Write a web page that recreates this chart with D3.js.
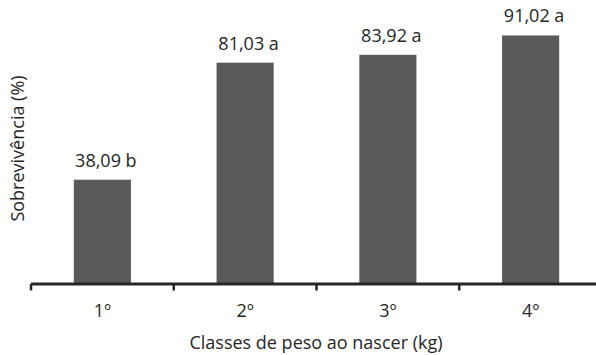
<!DOCTYPE html>
<html>
<head>
<meta charset="utf-8">
<script src="https://cdn.jsdelivr.net/npm/d3@7"></script>
<style>
  html, body { margin: 0; padding: 0; background: #fff; }
  svg { display: block; }
  text { font-family: "Open Sans", sans-serif; fill: #262626; }
</style>
</head>
<body>
<svg id="chart" width="596" height="355"></svg>
<script>
// Survival by birth-weight class
const categories = ["1º", "2º", "3º", "4º"];
const survival = [38.09, 81.03, 83.92, 91.02];
const groups = ["b", "a", "a", "a"];
const xTitle = "Classes de peso ao nascer (kg)";
const yTitle = "Sobrevivência (%)";

const svg = d3.select("#chart");
const fmt = v => v.toFixed(2).replace(".", ",");
const fontSize = 18;

const x = d3.scaleBand()
  .domain(categories)
  .range([31, 602])
  .paddingInner(0.6)
  .paddingOuter(0.3);

const y = d3.scaleLinear().domain([0, 100]).range([283.5, 11]);

const step = x.step();
const gap = (step - x.bandwidth()) / 2;

// bars
svg.append("g").selectAll("rect")
  .data(categories)
  .join("rect")
  .attr("x", d => x(d))
  .attr("width", x.bandwidth())
  .attr("y", (d, i) => y(survival[i]))
  .attr("height", (d, i) => y(0) - y(survival[i]))
  .attr("fill", "#595959");

// value labels
svg.append("g").selectAll("text")
  .data(categories)
  .join("text")
  .attr("x", d => x(d) + x.bandwidth() / 2 + 3.5)
  .attr("y", (d, i) => y(survival[i]) - 13)
  .attr("text-anchor", "middle")
  .attr("font-size", fontSize)
  .text((d, i) => fmt(survival[i]) + " " + groups[i]);

// x axis baseline with ticks between categories
const axisY = 284;
const axis = svg.append("g").attr("stroke", "#262626").attr("fill", "none");
axis.append("line")
  .attr("x1", x(categories[0]) - gap).attr("x2", 600)
  .attr("y1", axisY).attr("y2", axisY)
  .attr("stroke-width", 3);
const boundaries = categories.map(c => x(c) - gap)
  .concat([x(categories[categories.length - 1]) - gap + step]);
axis.selectAll("line.tick")
  .data(boundaries)
  .join("line")
  .attr("class", "tick")
  .attr("x1", d => d).attr("x2", d => d)
  .attr("y1", axisY).attr("y2", 290.5)
  .attr("stroke-width", 2.5);

// category labels
svg.append("g").selectAll("text")
  .data(categories)
  .join("text")
  .attr("x", d => x(d) + x.bandwidth() / 2)
  .attr("y", 317)
  .attr("text-anchor", "middle")
  .attr("font-size", fontSize)
  .text(d => d);

// axis titles
svg.append("text")
  .attr("x", 316)
  .attr("y", 349)
  .attr("text-anchor", "middle")
  .attr("font-size", fontSize)
  .text(xTitle);

svg.append("text")
  .attr("transform", "translate(24,148.5) rotate(-90)")
  .attr("text-anchor", "middle")
  .attr("font-size", fontSize)
  .text(yTitle);
</script>
</body>
</html>
